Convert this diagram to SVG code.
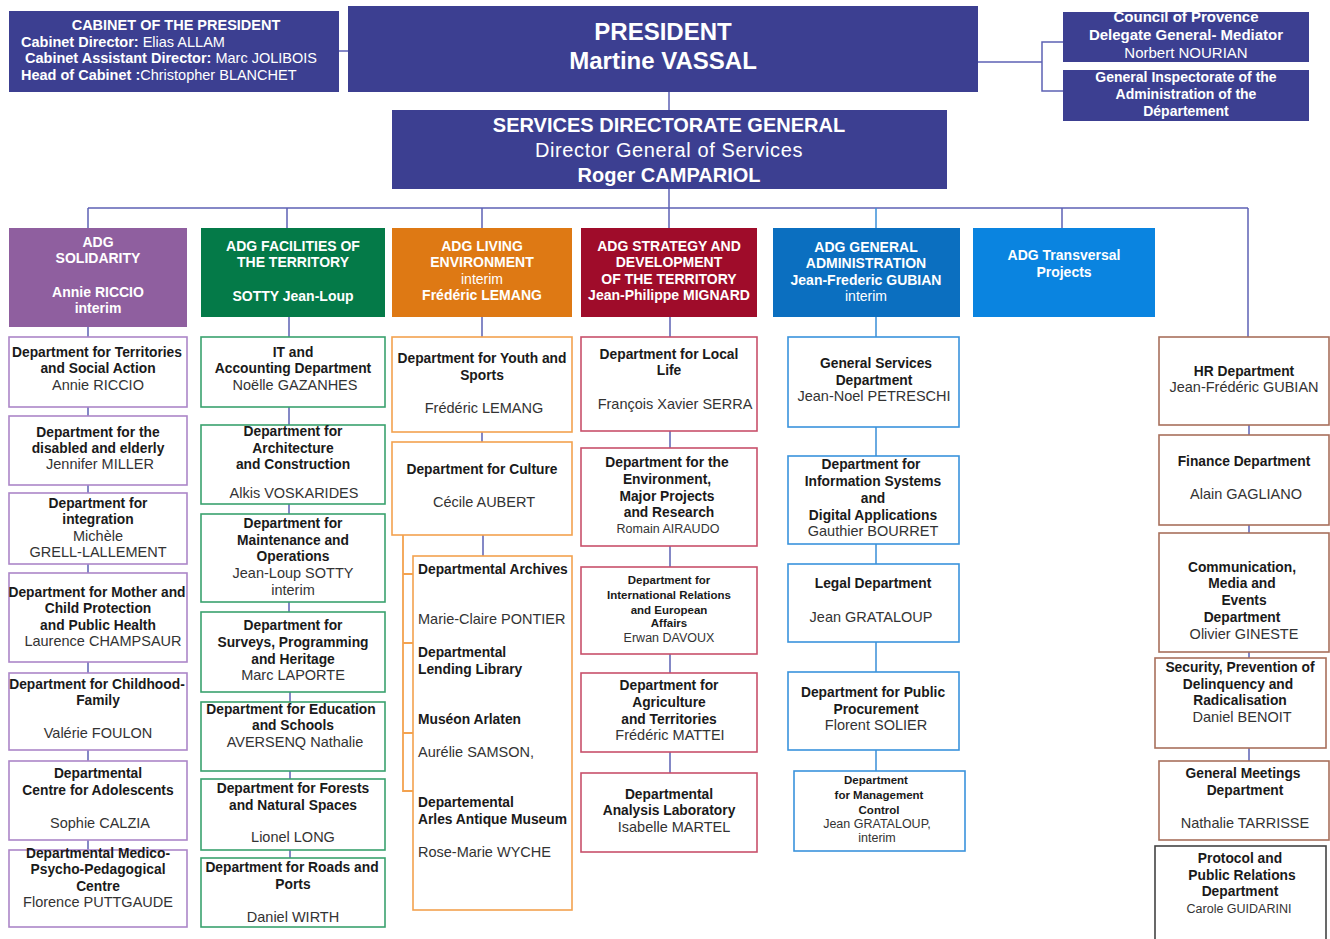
<svg xmlns="http://www.w3.org/2000/svg" width="1330" height="939" viewBox="0 0 1330 939">
<style>
text{font-family:"Liberation Sans",Arial,sans-serif;text-anchor:middle}
.hd{fill:#3c3f91}
.wb{fill:#fff;font-weight:bold;font-size:14px}
.wr{fill:#fff;font-size:14px}
.b{fill:#1a1a1a;font-weight:bold;font-size:13.8px}
.r{fill:#333;font-size:14.5px}
.sb{fill:#1a1a1a;font-weight:bold;font-size:11.5px}
.sr{fill:#333;font-size:12.5px}
.lt{text-anchor:start}
.box{fill:#fff;stroke-width:1.6}
.c1{stroke:#ac86c8}.c2{stroke:#3aa26e}.c3{stroke:#f3a24f}.c4{stroke:#c8506b}.c5{stroke:#3a93dc}.c6{stroke:#a8705c}.c7{stroke:#444}
#connectors line,#connectors path{stroke:#5c61b4;stroke-width:1.5;fill:none}
#connectors .blue{stroke:#3a8fd8}
#connectors .orange{stroke:#f3a24f;stroke-width:1.8}
</style>

<g id="connectors">
  <line x1="339" y1="51" x2="348" y2="51"/>
  <line x1="978" y1="62" x2="1042" y2="62"/>
  <path d="M1063 42H1042V91H1063"/>
  <line x1="669" y1="92" x2="669" y2="110"/>
  <line x1="669" y1="189" x2="669" y2="208"/>
  <line x1="88" y1="208" x2="1248" y2="208"/>
  <line x1="88" y1="208" x2="88" y2="228"/>
  <line x1="287" y1="208" x2="287" y2="228"/>
  <line x1="482" y1="208" x2="482" y2="228"/>
  <line x1="669" y1="208" x2="669" y2="228"/>
  <line class="blue" x1="876" y1="208" x2="876" y2="228"/>
  <line x1="1062" y1="208" x2="1062" y2="228"/>
  <line x1="1248" y1="208" x2="1248" y2="337"/>
  <!-- solidarity column -->
  <path d="M88 327V337M88 407V416M88 485V493M88 564V573M88 662V673M88 750V761M88 840V850"/>
  <!-- facilities column -->
  <path d="M289 317V337M289 407V425M289 504V514M289 602V612M290 692V702M290 771V779M290 850V858"/>
  <!-- living environment column -->
  <path d="M482 317V337M482 432V442M483 535V556"/>
  <path class="orange" d="M403 535V791H413M403 574H413M403 643H413M403 733H413"/>
  <!-- strategy column -->
  <path d="M670 317V337M670 431V448M670 546V567M670 654V673M670 752V773"/>
  <!-- general administration column -->
  <path class="blue" d="M876 317V337M876 427V456M876 544V564M876 642V672M876 750V771"/>
  <!-- transversal departments -->
  <path d="M1249 425V435M1249 525V533M1249 652V658M1249 748V761"/>
</g>

<g id="cabinet">
  <rect class="hd" x="9" y="11" width="330" height="81"/>
  <text class="wb" x="176" y="30" style="font-size:14.5px">CABINET OF THE PRESIDENT</text>
  <text class="wr lt" x="21" y="47" style="font-size:14.5px"><tspan font-weight="bold">Cabinet Director:</tspan>  Elias ALLAM</text>
  <text class="wr lt" x="25" y="63" style="font-size:14.5px"><tspan font-weight="bold">Cabinet Assistant Director:</tspan> Marc JOLIBOIS</text>
  <text class="wr lt" x="21" y="80" style="font-size:14.5px"><tspan font-weight="bold">Head of Cabinet :</tspan>Christopher BLANCHET</text>
</g>

<g id="president">
  <rect class="hd" x="348" y="6" width="630" height="86"/>
  <text class="wb" x="663" y="40" style="font-size:24px">PRESIDENT</text>
  <text class="wb" x="663" y="69" style="font-size:24px">Martine VASSAL</text>
</g>

<g id="council">
  <rect class="hd" x="1063" y="12" width="246" height="50"/>
  <text class="wb" x="1186" y="22" style="font-size:15px">Council of Provence</text>
  <text class="wb" x="1186" y="40" style="font-size:15px">Delegate General- Mediator</text>
  <text class="wr" x="1186" y="58" style="font-size:15px">Norbert NOURIAN</text>
</g>

<g id="inspectorate">
  <rect class="hd" x="1063" y="70" width="246" height="51"/>
  <text class="wb" x="1186" y="82">General Inspectorate of the</text>
  <text class="wb" x="1186" y="99">Administration of the</text>
  <text class="wb" x="1186" y="116">Département</text>
</g>

<g id="sdg">
  <rect class="hd" x="392" y="110" width="555" height="79"/>
  <text class="wb" x="669" y="132" style="font-size:20px">SERVICES DIRECTORATE GENERAL</text>
  <text class="wr" x="669" y="157" style="font-size:20px;letter-spacing:0.6px">Director General of Services</text>
  <text class="wb" x="669" y="182" style="font-size:20px">Roger CAMPARIOL</text>
</g>

<!-- assistant director-general heads -->
<g id="adg-solidarity">
  <rect x="9" y="228" width="178" height="99" fill="#8f5f9f"/>
  <text class="wb" x="98" y="247">ADG</text>
  <text class="wb" x="98" y="263">SOLIDARITY</text>
  <text class="wb" x="98" y="297">Annie RICCIO</text>
  <text class="wb" x="98" y="313">interim</text>
</g>
<g id="adg-facilities">
  <rect x="201" y="228" width="184" height="89" fill="#047a48"/>
  <text class="wb" x="293" y="251">ADG FACILITIES OF</text>
  <text class="wb" x="293" y="267">THE TERRITORY</text>
  <text class="wb" x="293" y="301">SOTTY Jean-Loup</text>
</g>
<g id="adg-living">
  <rect x="392" y="228" width="180" height="89" fill="#de7914"/>
  <text class="wb" x="482" y="251">ADG LIVING</text>
  <text class="wb" x="482" y="267">ENVIRONMENT</text>
  <text class="wr" x="482" y="284">interim</text>
  <text class="wb" x="482" y="300">Frédéric LEMANG</text>
</g>
<g id="adg-strategy">
  <rect x="581" y="228" width="176" height="89" fill="#9f0c2a"/>
  <text class="wb" x="669" y="251">ADG STRATEGY AND</text>
  <text class="wb" x="669" y="267">DEVELOPMENT</text>
  <text class="wb" x="669" y="284">OF THE TERRITORY</text>
  <text class="wb" x="669" y="300">Jean-Philippe MIGNARD</text>
</g>
<g id="adg-general">
  <rect x="773" y="228" width="187" height="89" fill="#0b6fc0"/>
  <text class="wb" x="866" y="252">ADG GENERAL</text>
  <text class="wb" x="866" y="268">ADMINISTRATION</text>
  <text class="wb" x="866" y="285">Jean-Frederic GUBIAN</text>
  <text class="wr" x="866" y="301">interim</text>
</g>
<g id="adg-transversal">
  <rect x="973" y="228" width="182" height="89" fill="#0a84e0"/>
  <text class="wb" x="1064" y="260">ADG Transversal</text>
  <text class="wb" x="1064" y="277">Projects</text>
</g>

<!-- solidarity departments -->
<g id="sol-territories">
  <rect class="box c1" x="9" y="337" width="178" height="70"/>
  <text class="b" x="97" y="357">Department for Territories</text>
  <text class="b" x="98" y="373">and Social Action</text>
  <text class="r" x="98" y="390">Annie RICCIO</text>
</g>
<g id="sol-disabled">
  <rect class="box c1" x="9" y="416" width="178" height="69"/>
  <text class="b" x="98" y="437">Department for the</text>
  <text class="b" x="98" y="453">disabled and elderly</text>
  <text class="r" x="100" y="469">Jennifer MILLER</text>
</g>
<g id="sol-integration">
  <rect class="box c1" x="9" y="493" width="178" height="71"/>
  <text class="b" x="98" y="508">Department for</text>
  <text class="b" x="98" y="524">integration</text>
  <text class="r" x="98" y="541">Michèle</text>
  <text class="r" x="98" y="557">GRELL-LALLEMENT</text>
</g>
<g id="sol-mother-child">
  <rect class="box c1" x="9" y="573" width="178" height="89"/>
  <text class="b" x="97" y="597">Department for Mother and</text>
  <text class="b" x="98" y="613">Child Protection</text>
  <text class="b" x="98" y="630">and Public Health</text>
  <text class="r" x="103" y="646">Laurence CHAMPSAUR</text>
</g>
<g id="sol-childhood">
  <rect class="box c1" x="9" y="673" width="178" height="77"/>
  <text class="b" x="97" y="689">Department for Childhood-</text>
  <text class="b" x="98" y="705">Family</text>
  <text class="r" x="98" y="738">Valérie FOULON</text>
</g>
<g id="sol-adolescents">
  <rect class="box c1" x="9" y="761" width="178" height="79"/>
  <text class="b" x="98" y="778">Departmental</text>
  <text class="b" x="98" y="795">Centre for Adolescents</text>
  <text class="r" x="100" y="828">Sophie CALZIA</text>
</g>
<g id="sol-medico">
  <rect class="box c1" x="9" y="850" width="178" height="77"/>
  <text class="b" x="98" y="858">Departmental Medico-</text>
  <text class="b" x="98" y="874">Psycho-Pedagogical</text>
  <text class="b" x="98" y="891">Centre</text>
  <text class="r" x="98" y="907">Florence PUTTGAUDE</text>
</g>

<!-- facilities departments -->
<g id="fac-it">
  <rect class="box c2" x="201" y="337" width="184" height="70"/>
  <text class="b" x="293" y="357">IT and</text>
  <text class="b" x="293" y="373">Accounting Department</text>
  <text class="r" x="295" y="390">Noëlle GAZANHES</text>
</g>
<g id="fac-architecture">
  <rect class="box c2" x="201" y="425" width="184" height="79"/>
  <text class="b" x="293" y="436">Department for</text>
  <text class="b" x="293" y="453">Architecture</text>
  <text class="b" x="293" y="469">and Construction</text>
  <text class="r" x="294" y="498">Alkis VOSKARIDES</text>
</g>
<g id="fac-maintenance">
  <rect class="box c2" x="201" y="514" width="184" height="88"/>
  <text class="b" x="293" y="528">Department for</text>
  <text class="b" x="293" y="545">Maintenance and</text>
  <text class="b" x="293" y="561">Operations</text>
  <text class="r" x="293" y="578">Jean-Loup SOTTY</text>
  <text class="r" x="293" y="595">interim</text>
</g>
<g id="fac-surveys">
  <rect class="box c2" x="201" y="612" width="184" height="80"/>
  <text class="b" x="293" y="630">Department for</text>
  <text class="b" x="293" y="647">Surveys, Programming</text>
  <text class="b" x="293" y="664">and Heritage</text>
  <text class="r" x="293" y="680">Marc LAPORTE</text>
</g>
<g id="fac-education">
  <rect class="box c2" x="201" y="702" width="184" height="69"/>
  <text class="b" x="291" y="714">Department for Education</text>
  <text class="b" x="293" y="730">and Schools</text>
  <text class="r" x="295" y="747">AVERSENQ Nathalie</text>
</g>
<g id="fac-forests">
  <rect class="box c2" x="201" y="779" width="184" height="71"/>
  <text class="b" x="293" y="793">Department for Forests</text>
  <text class="b" x="293" y="810">and Natural Spaces</text>
  <text class="r" x="293" y="842">Lionel LONG</text>
</g>
<g id="fac-roads">
  <rect class="box c2" x="201" y="858" width="184" height="69"/>
  <text class="b" x="292" y="872">Department for Roads and</text>
  <text class="b" x="293" y="889">Ports</text>
  <text class="r" x="293" y="922">Daniel WIRTH</text>
</g>

<!-- living environment departments -->
<g id="liv-youth">
  <rect class="box c3" x="392" y="337" width="180" height="95"/>
  <text class="b" x="482" y="363">Department for Youth and</text>
  <text class="b" x="482" y="380">Sports</text>
  <text class="r" x="484" y="413">Frédéric LEMANG</text>
</g>
<g id="liv-culture">
  <rect class="box c3" x="392" y="442" width="180" height="93"/>
  <text class="b" x="482" y="474">Department for Culture</text>
  <text class="r" x="484" y="507">Cécile AUBERT</text>
</g>
<g id="liv-heritage">
  <rect class="box c3" x="413" y="556" width="159" height="354"/>
  <text class="b lt" x="418" y="574">Departmental Archives</text>
  <text class="r lt" x="418" y="624">Marie-Claire PONTIER</text>
  <text class="b lt" x="418" y="657">Departmental</text>
  <text class="b lt" x="418" y="674">Lending Library</text>
  <text class="b lt" x="418" y="724">Muséon Arlaten</text>
  <text class="r lt" x="418" y="757">Aurélie SAMSON,</text>
  <text class="b lt" x="418" y="807">Departemental</text>
  <text class="b lt" x="418" y="824">Arles Antique Museum</text>
  <text class="r lt" x="418" y="857">Rose-Marie WYCHE</text>
</g>

<!-- strategy departments -->
<g id="str-local">
  <rect class="box c4" x="581" y="337" width="176" height="94"/>
  <text class="b" x="669" y="359">Department for Local</text>
  <text class="b" x="669" y="375">Life</text>
  <text class="r" x="675" y="409">François Xavier SERRA</text>
</g>
<g id="str-environment">
  <rect class="box c4" x="581" y="448" width="176" height="98"/>
  <text class="b" x="667" y="467">Department for the</text>
  <text class="b" x="667" y="484">Environment,</text>
  <text class="b" x="667" y="501">Major Projects</text>
  <text class="b" x="669" y="517">and Research</text>
  <text class="sr" x="668" y="533">Romain AIRAUDO</text>
</g>
<g id="str-international">
  <rect class="box c4" x="581" y="567" width="176" height="87"/>
  <text class="sb" x="669" y="584">Department for</text>
  <text class="sb" x="669" y="599">International Relations</text>
  <text class="sb" x="669" y="614">and European</text>
  <text class="sb" x="669" y="627">Affairs</text>
  <text class="sr" x="669" y="642">Erwan DAVOUX</text>
</g>
<g id="str-agriculture">
  <rect class="box c4" x="581" y="673" width="176" height="79"/>
  <text class="b" x="669" y="690">Department for</text>
  <text class="b" x="669" y="707">Agriculture</text>
  <text class="b" x="669" y="724">and Territories</text>
  <text class="r" x="670" y="740">Frédéric MATTEI</text>
</g>
<g id="str-laboratory">
  <rect class="box c4" x="581" y="773" width="176" height="79"/>
  <text class="b" x="669" y="799">Departmental</text>
  <text class="b" x="669" y="815">Analysis Laboratory</text>
  <text class="r" x="674" y="832">Isabelle MARTEL</text>
</g>

<!-- general administration departments -->
<g id="gen-services">
  <rect class="box c5" x="788" y="337" width="171" height="90"/>
  <text class="b" x="876" y="368">General Services</text>
  <text class="b" x="874" y="385">Department</text>
  <text class="r" x="874" y="401">Jean-Noel PETRESCHI</text>
</g>
<g id="gen-information">
  <rect class="box c5" x="788" y="456" width="171" height="88"/>
  <text class="b" x="871" y="469">Department for</text>
  <text class="b" x="873" y="486">Information Systems</text>
  <text class="b" x="873" y="503">and</text>
  <text class="b" x="873" y="520">Digital Applications</text>
  <text class="r" x="873" y="536">Gauthier BOURRET</text>
</g>
<g id="gen-legal">
  <rect class="box c5" x="788" y="564" width="171" height="78"/>
  <text class="b" x="873" y="588">Legal Department</text>
  <text class="r" x="871" y="622">Jean GRATALOUP</text>
</g>
<g id="gen-procurement">
  <rect class="box c5" x="788" y="672" width="171" height="78"/>
  <text class="b" x="873" y="697">Department for Public</text>
  <text class="b" x="876" y="714">Procurement</text>
  <text class="r" x="876" y="730">Florent SOLIER</text>
</g>
<g id="gen-management">
  <rect class="box c5" x="794" y="771" width="171" height="80"/>
  <text class="sb" x="876" y="784">Department</text>
  <text class="sb" x="879" y="799">for Management</text>
  <text class="sb" x="879" y="814">Control</text>
  <text class="sr" x="877" y="828">Jean GRATALOUP,</text>
  <text class="sr" x="877" y="842">interim</text>
</g>

<!-- transversal departments -->
<g id="tr-hr">
  <rect class="box c6" x="1159" y="337" width="170" height="88"/>
  <text class="b" x="1244" y="376">HR Department</text>
  <text class="r" x="1244" y="392">Jean-Frédéric GUBIAN</text>
</g>
<g id="tr-finance">
  <rect class="box c6" x="1159" y="435" width="170" height="90"/>
  <text class="b" x="1244" y="466">Finance Department</text>
  <text class="r" x="1246" y="499">Alain GAGLIANO</text>
</g>
<g id="tr-communication">
  <rect class="box c6" x="1159" y="533" width="170" height="119"/>
  <text class="b" x="1242" y="572">Communication,</text>
  <text class="b" x="1242" y="588">Media and</text>
  <text class="b" x="1244" y="605">Events</text>
  <text class="b" x="1242" y="622">Department</text>
  <text class="r" x="1244" y="639">Olivier GINESTE</text>
</g>
<g id="tr-security">
  <rect class="box c6" x="1155" y="658" width="171" height="90"/>
  <text class="b" x="1240" y="672">Security, Prevention of</text>
  <text class="b" x="1238" y="689">Delinquency and</text>
  <text class="b" x="1240" y="705">Radicalisation</text>
  <text class="r" x="1242" y="722">Daniel BENOIT</text>
</g>
<g id="tr-meetings">
  <rect class="box c6" x="1159" y="761" width="170" height="79"/>
  <text class="b" x="1243" y="778">General Meetings</text>
  <text class="b" x="1245" y="795">Department</text>
  <text class="r" x="1245" y="828">Nathalie TARRISSE</text>
</g>
<g id="tr-protocol">
  <rect class="box c7" x="1155" y="846" width="171" height="100"/>
  <text class="b" x="1240" y="863">Protocol and</text>
  <text class="b" x="1242" y="880">Public Relations</text>
  <text class="b" x="1240" y="896">Department</text>
  <text class="sr" x="1239" y="913">Carole GUIDARINI</text>
</g>
</svg>
